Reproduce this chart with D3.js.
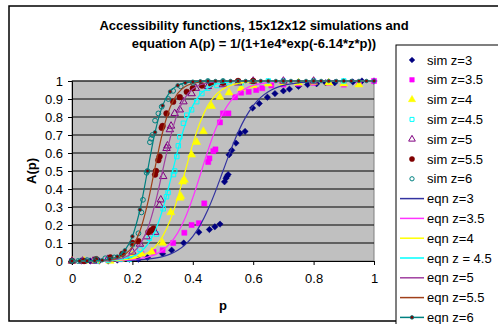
<!DOCTYPE html>
<html>
<head>
<meta charset="utf-8">
<script src="https://cdn.jsdelivr.net/npm/d3@7"></script>
<style>
  body { margin: 0; background: #fff; }
  text { font-family: "Liberation Sans", Arial, sans-serif; }
</style>
</head>
<body>
<script>
// simulation points
const simP3 = [0, 0.03, 0.06, 0.09, 0.12, 0.15, 0.19, 0.22, 0.25, 0.3, 0.33, 0.37, 0.42, 0.455, 0.473, 0.49, 0.505, 0.51, 0.513, 0.517, 0.52, 0.529, 0.543, 0.556, 0.573, 0.598, 0.62, 0.647, 0.672, 0.7, 0.72, 0.75, 0.78, 0.81, 0.84, 0.87, 0.9, 0.93, 0.96, 1.0];
const simA3 = [0, 0, 0, 0, 0, 0.005, 0.01, 0.01, 0.02, 0.04, 0.06, 0.1, 0.16, 0.175, 0.19, 0.205, 0.44, 0.46, 0.47, 0.48, 0.59, 0.615, 0.655, 0.71, 0.72, 0.85, 0.875, 0.91, 0.93, 0.945, 0.955, 0.97, 0.98, 0.985, 0.99, 0.99, 0.995, 0.995, 1, 1];

const simP35 = [0, 0.04, 0.08, 0.12, 0.16, 0.2, 0.23, 0.27, 0.3, 0.335, 0.372, 0.396, 0.42, 0.438, 0.451, 0.455, 0.468, 0.475, 0.49, 0.5, 0.518, 0.54, 0.56, 0.585, 0.61, 0.63, 0.66, 0.7, 0.75, 0.8, 0.85, 0.9, 0.95, 1.0];
const simA35 = [0, 0, 0, 0.005, 0.01, 0.02, 0.04, 0.05, 0.06, 0.1, 0.157, 0.2, 0.21, 0.32, 0.55, 0.57, 0.61, 0.62, 0.77, 0.82, 0.82, 0.91, 0.935, 0.94, 0.95, 0.96, 0.975, 0.98, 0.985, 0.99, 0.99, 0.98, 0.99, 1];

const simP4 = [0, 0.04, 0.08, 0.126, 0.16, 0.2, 0.23, 0.264, 0.3, 0.327, 0.357, 0.36, 0.366, 0.372, 0.396, 0.413, 0.435, 0.462, 0.49, 0.52, 0.56, 0.6, 0.65, 0.7, 0.75, 0.8, 0.85, 0.9, 0.95];
const simA4 = [0, 0, 0, 0, 0.01, 0.03, 0.04, 0.05, 0.1, 0.27, 0.35, 0.36, 0.44, 0.45, 0.59, 0.66, 0.72, 0.86, 0.91, 0.935, 0.96, 0.975, 0.985, 0.99, 0.99, 0.995, 0.99, 0.985, 0.98];

const simP45 = [0, 0.04, 0.08, 0.12, 0.16, 0.19, 0.225, 0.256, 0.28, 0.302, 0.313, 0.318, 0.336, 0.34, 0.347, 0.352, 0.357, 0.369, 0.38, 0.396, 0.413, 0.43, 0.45, 0.48, 0.52, 0.56, 0.6, 0.65, 0.7, 0.8, 0.9];
const simA45 = [0, 0, 0, 0.005, 0.01, 0.01, 0.065, 0.126, 0.15, 0.29, 0.357, 0.38, 0.48, 0.5, 0.58, 0.64, 0.69, 0.765, 0.81, 0.84, 0.885, 0.93, 0.96, 0.975, 0.99, 0.99, 0.995, 1, 1, 1, 1];

const simP5 = [0, 0.035, 0.07, 0.118, 0.16, 0.2, 0.225, 0.247, 0.275, 0.29, 0.294, 0.302, 0.313, 0.316, 0.324, 0.328, 0.34, 0.357, 0.369, 0.396, 0.41, 0.45, 0.5, 0.55, 0.6, 0.7, 0.8];
const simA5 = [0, 0, 0, 0.01, 0.02, 0.05, 0.094, 0.135, 0.16, 0.31, 0.34, 0.47, 0.626, 0.64, 0.73, 0.75, 0.82, 0.84, 0.885, 0.93, 0.96, 0.97, 0.98, 0.99, 1, 1, 1];

const simP55 = [0, 0.04, 0.08, 0.127, 0.167, 0.2, 0.22, 0.253, 0.262, 0.27, 0.275, 0.278, 0.286, 0.29, 0.297, 0.3, 0.313, 0.335, 0.357, 0.38, 0.4, 0.43, 0.46, 0.5, 0.55, 0.6];
const simA55 = [0, 0, 0.01, 0.02, 0.04, 0.1, 0.11, 0.16, 0.17, 0.18, 0.48, 0.5, 0.56, 0.58, 0.74, 0.75, 0.82, 0.885, 0.91, 0.94, 0.96, 0.975, 0.985, 0.99, 1, 1];

const simP6 = [0, 0.02, 0.05, 0.08, 0.11, 0.14, 0.17, 0.2, 0.22, 0.23, 0.235, 0.247, 0.25, 0.258, 0.262, 0.266, 0.275, 0.286, 0.297, 0.319, 0.335, 0.36, 0.4, 0.45, 0.5];
const simA6 = [0, 0, 0.005, 0.01, 0.015, 0.02, 0.04, 0.09, 0.154, 0.27, 0.34, 0.49, 0.5, 0.66, 0.68, 0.7, 0.78, 0.82, 0.857, 0.9, 0.945, 0.97, 0.99, 1, 1];

// equation curves, p = 0, 0.025 ... 1
const eqnP = [0, 0.025, 0.05, 0.075, 0.1, 0.125, 0.15, 0.175, 0.2, 0.225, 0.25, 0.275, 0.3, 0.325, 0.35, 0.375, 0.4, 0.425, 0.45, 0.475, 0.5,
  0.525, 0.55, 0.575, 0.6, 0.625, 0.65, 0.675, 0.7, 0.725, 0.75, 0.775, 0.8, 0.825, 0.85, 0.875, 0.9, 0.925, 0.95, 0.975, 1];
const eqnA3 = [0.0001, 0.0002, 0.0003, 0.0004, 0.0006, 0.001, 0.0016, 0.0025, 0.004, 0.0063, 0.0099, 0.0157, 0.0245, 0.0383, 0.0594, 0.0909, 0.1368, 0.2008, 0.2848, 0.3869, 0.5,
  0.6131, 0.7152, 0.7992, 0.8632, 0.9091, 0.9406, 0.9617, 0.9755, 0.9843, 0.9901, 0.9937, 0.996, 0.9975, 0.9984, 0.999, 0.9994, 0.9996, 0.9998, 0.9999, 0.9999];
const eqnA35 = [0.0001, 0.0002, 0.0003, 0.0005, 0.0009, 0.0015, 0.0025, 0.0043, 0.0073, 0.0124, 0.0211, 0.0356, 0.0593, 0.0975, 0.156, 0.2403, 0.351, 0.4808, 0.6131, 0.7307, 0.8228,
  0.8883, 0.9315, 0.9588, 0.9755, 0.9855, 0.9915, 0.995, 0.9971, 0.9983, 0.999, 0.9994, 0.9997, 0.9998, 0.9999, 1, 1, 1, 1, 1, 1];
const eqnA4 = [0.0001, 0.0002, 0.0003, 0.0006, 0.0012, 0.0022, 0.004, 0.0073, 0.0134, 0.0245, 0.0443, 0.079, 0.1368, 0.2266, 0.351, 0.5, 0.649, 0.7734, 0.8632, 0.921, 0.9557,
  0.9755, 0.9866, 0.9927, 0.996, 0.9978, 0.9988, 0.9994, 0.9997, 0.9998, 0.9999, 1, 1, 1, 1, 1, 1, 1, 1, 1, 1];
const eqnA45 = [0.0001, 0.0002, 0.0004, 0.0008, 0.0016, 0.0032, 0.0063, 0.0124, 0.0245, 0.0477, 0.0909, 0.1663, 0.2847, 0.4427, 0.6131, 0.7597, 0.8632, 0.9264, 0.9617, 0.9804, 0.9901,
  0.995, 0.9975, 0.9987, 0.9994, 0.9997, 0.9998, 0.9999, 1, 1, 1, 1, 1, 1, 1, 1, 1, 1, 1, 1, 1];
const eqnA5 = [0.0001, 0.0002, 0.0005, 0.001, 0.0022, 0.0046, 0.0099, 0.0211, 0.0443, 0.0909, 0.1772, 0.317, 0.5, 0.683, 0.8228, 0.9091, 0.9557, 0.9789, 0.9901, 0.9954, 0.9978,
  0.999, 0.9995, 0.9998, 0.9999, 1, 1, 1, 1, 1, 1, 1, 1, 1, 1, 1, 1, 1, 1, 1, 1];
const eqnA55 = [0.0001, 0.0002, 0.0005, 0.0013, 0.0029, 0.0068, 0.0156, 0.0356, 0.079, 0.1663, 0.317, 0.5192, 0.7153, 0.8539, 0.9315, 0.9694, 0.9866, 0.9942, 0.9975, 0.9989, 0.9995,
  0.9998, 0.9999, 1, 1, 1, 1, 1, 1, 1, 1, 1, 1, 1, 1, 1, 1, 1, 1, 1, 1];
const eqnA6 = [0.0001, 0.0003, 0.0006, 0.0016, 0.004, 0.0099, 0.0245, 0.0593, 0.1368, 0.2847, 0.5, 0.7153, 0.8632, 0.9407, 0.9755, 0.9901, 0.996, 0.9984, 0.9994, 0.9998, 0.9999,
  1, 1, 1, 1, 1, 1, 1, 1, 1, 1, 1, 1, 1, 1, 1, 1, 1, 1, 1, 1];

const xTicks = [0, 0.2, 0.4, 0.6, 0.8, 1];
const yTicks = [0, 0.1, 0.2, 0.3, 0.4, 0.5, 0.6, 0.7, 0.8, 0.9, 1];

const simSeries = [
  { name: "sim z=3",   p: simP3,  a: simA3,  type: d3.symbolDiamond2, size: 26, fill: "#000080", stroke: "#000080" },
  { name: "sim z=3.5", p: simP35, a: simA35, type: d3.symbolSquare,   size: 26, fill: "#ff00ff", stroke: "#ff00ff" },
  { name: "sim z=4",   p: simP4,  a: simA4,  type: d3.symbolTriangle, size: 28, fill: "#ffff00", stroke: "#ffff00" },
  { name: "sim z=4.5", p: simP45, a: simA45, type: d3.symbolSquare,   size: 20, fill: "none",    stroke: "#00ffff" },
  { name: "sim z=5",   p: simP5,  a: simA5,  type: d3.symbolTriangle, size: 24, fill: "none",    stroke: "#800080" },
  { name: "sim z=5.5", p: simP55, a: simA55, type: d3.symbolCircle,   size: 26, fill: "#800000", stroke: "#800000" },
  { name: "sim z=6",   p: simP6,  a: simA6,  type: d3.symbolCircle,   size: 18, fill: "none",    stroke: "#008080" }
];
const eqnSeries = [
  { name: "eqn z=3",     a: eqnA3,  color: "#3333a0" },
  { name: "eqn z=3.5",   a: eqnA35, color: "#ff33ff" },
  { name: "eqn z=4",     a: eqnA4,  color: "#ffff00" },
  { name: "eqn z = 4.5", a: eqnA45, color: "#00ffff" },
  { name: "eqn z=5",     a: eqnA5,  color: "#a040a0" },
  { name: "eqn z=5.5",   a: eqnA55, color: "#a0401a" },
  { name: "eqn z=6",     a: eqnA6,  color: "#008080", dots: true }
];

let w = 498;
let h = 324;

const svg = d3.select("body")
    .append("svg")
    .attr("width", w)
    .attr("height", h);

// chart frame
svg.append("rect")
    .attr("x", 9).attr("y", 6)
    .attr("width", 520).attr("height", 315)
    .attr("fill", "#fff")
    .attr("stroke", "#000")
    .attr("stroke-width", 1.5);

svg.append("text")
    .attr("x", 254).attr("y", 30)
    .attr("text-anchor", "middle")
    .attr("font-size", 13).attr("font-weight", "bold")
    .text("Accessibility functions, 15x12x12 simulations and");
svg.append("text")
    .attr("x", 254).attr("y", 48)
    .attr("text-anchor", "middle")
    .attr("font-size", 13).attr("font-weight", "bold")
    .text("equation A(p) = 1/(1+1e4*exp(-6.14*z*p))");

let x0 = 72, x1 = 374, y0 = 261, y1 = 81;

const xScale = d3.scaleLinear().domain([0, 1]).range([x0, x1]);
const yScale = d3.scaleLinear().domain([0, 1]).range([y0, y1]);

svg.append("rect")
    .attr("x", x0).attr("y", y1)
    .attr("width", x1 - x0).attr("height", y0 - y1)
    .attr("fill", "#c0c0c0")
    .attr("stroke", "#808080");

// gridlines
svg.append("g")
    .selectAll("line")
    .data(yTicks.slice(1))
    .enter()
    .append("line")
    .attr("x1", x0).attr("x2", x1)
    .attr("y1", d => yScale(d)).attr("y2", d => yScale(d))
    .attr("stroke", "#000");

// axes
const xAxis = svg.append("g")
    .attr("transform", "translate(0," + y0 + ")")
    .call(d3.axisBottom(xScale).tickValues(xTicks).tickSize(4).tickPadding(9).tickFormat(d3.format("")));
const yAxis = svg.append("g")
    .attr("transform", "translate(" + x0 + ",0)")
    .call(d3.axisLeft(yScale).tickValues(yTicks).tickSize(4).tickPadding(5).tickFormat(d3.format("")));
[xAxis, yAxis].forEach(function (g) {
    g.selectAll("text").attr("font-size", 13).attr("fill", "#000")
        .attr("font-family", "'Liberation Sans', Arial, sans-serif");
    g.selectAll("line").attr("stroke", "#000");
    g.select(".domain").attr("stroke", "#000");
});

svg.append("text")
    .attr("text-anchor", "middle")
    .attr("transform", "translate(" + 36 + "," + 171 + ")rotate(-90)")
    .attr("font-size", 13).attr("font-weight", "bold")
    .text("A(p)");
svg.append("text")
    .attr("text-anchor", "middle")
    .attr("x", 223).attr("y", 310)
    .attr("font-size", 13).attr("font-weight", "bold")
    .text("p");

// simulation markers
const plot = svg.append("g");
simSeries.forEach(function (s) {
    plot.append("g")
        .selectAll("path")
        .data(s.p)
        .enter()
        .append("path")
        .attr("transform", (d, i) => "translate(" + xScale(d) + "," + yScale(s.a[i]) + ")")
        .attr("d", d3.symbol().type(s.type).size(s.size))
        .attr("fill", s.fill)
        .attr("stroke", s.stroke)
        .attr("stroke-width", s.fill === "none" ? 1 : 0.5);
});

// equation curves
const line = d3.line()
    .x((d, i) => xScale(eqnP[i]))
    .y(d => yScale(d))
    .curve(d3.curveMonotoneX);
eqnSeries.forEach(function (s) {
    plot.append("path")
        .datum(s.a)
        .attr("d", line)
        .attr("fill", "none")
        .attr("stroke", s.color)
        .attr("stroke-width", 1.2);
    if (s.dots) {
        plot.append("g")
            .selectAll("circle")
            .data(s.a)
            .enter()
            .append("circle")
            .attr("cx", (d, i) => xScale(eqnP[i]))
            .attr("cy", d => yScale(d))
            .attr("r", 1.8)
            .attr("fill", "#800000")
            .attr("stroke", "#008080")
            .attr("stroke-width", 0.8);
    }
});

// legend
const legend = svg.append("g");
legend.append("rect")
    .attr("x", 396).attr("y", 45)
    .attr("width", 120).attr("height", 300)
    .attr("fill", "#fff")
    .attr("stroke", "#000");

let rowH = 19.8;
simSeries.forEach(function (s, i) {
    let ly = 60 + i * rowH;
    legend.append("path")
        .attr("transform", "translate(412," + ly + ")")
        .attr("d", d3.symbol().type(s.type).size(s.size * 0.8))
        .attr("fill", s.fill)
        .attr("stroke", s.stroke)
        .attr("stroke-width", s.fill === "none" ? 1 : 0.5);
    legend.append("text")
        .attr("x", 427).attr("y", ly + 4.5)
        .attr("font-size", 13)
        .text(s.name);
});
eqnSeries.forEach(function (s, i) {
    let ly = 60 + (i + 7) * rowH;
    legend.append("line")
        .attr("x1", 400).attr("x2", 424)
        .attr("y1", ly).attr("y2", ly)
        .attr("stroke", s.color)
        .attr("stroke-width", 1.5);
    if (s.dots) {
        legend.append("circle")
            .attr("cx", 412).attr("cy", ly)
            .attr("r", 1.8)
            .attr("fill", "#800000")
            .attr("stroke", "#008080")
            .attr("stroke-width", 0.8);
    }
    legend.append("text")
        .attr("x", 427).attr("y", ly + 4.5)
        .attr("font-size", 13)
        .text(s.name);
});
</script>
</body>
</html>
